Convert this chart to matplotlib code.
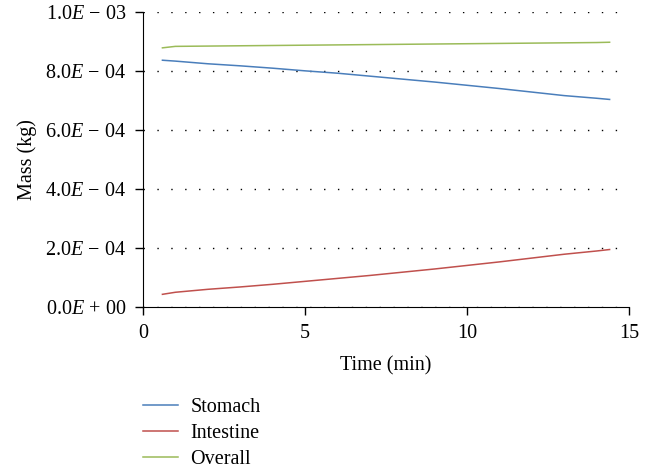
import matplotlib
matplotlib.use("Agg")
import matplotlib.pyplot as plt

plt.rcParams["font.family"] = "Liberation Serif"
plt.rcParams["mathtext.fontset"] = "custom"
plt.rcParams["mathtext.rm"] = "Liberation Serif"
plt.rcParams["mathtext.it"] = "Liberation Serif:italic"

TIME = [0.6, 1.0, 2, 3, 4, 5, 6, 7, 8, 9, 10, 11, 12, 13, 14, 14.4]
STOMACH = [8.37e-4, 8.34e-4, 8.25e-4, 8.18e-4, 8.10e-4, 8.01e-4, 7.93e-4, 7.83e-4,
           7.73e-4, 7.63e-4, 7.52e-4, 7.41e-4, 7.29e-4, 7.17e-4, 7.08e-4, 7.04e-4]
INTESTINE = [4.3e-5, 5.0e-5, 6.0e-5, 6.8e-5, 7.7e-5, 8.7e-5, 9.7e-5, 1.07e-4,
             1.18e-4, 1.29e-4, 1.41e-4, 1.53e-4, 1.66e-4, 1.79e-4, 1.90e-4, 1.95e-4]
OVERALL = [8.79e-4, 8.84e-4, 8.85e-4, 8.86e-4, 8.87e-4, 8.88e-4, 8.89e-4, 8.90e-4,
           8.91e-4, 8.92e-4, 8.93e-4, 8.94e-4, 8.95e-4, 8.96e-4, 8.97e-4, 8.98e-4]
YTICKS = [0, 2e-4, 4e-4, 6e-4, 8e-4, 1e-3]
YLABELS = [r"$\mathrm{0.0}E\,+\,\mathrm{00}$", r"$\mathrm{2.0}E\,-\,\mathrm{04}$",
           r"$\mathrm{4.0}E\,-\,\mathrm{04}$", r"$\mathrm{6.0}E\,-\,\mathrm{04}$",
           r"$\mathrm{8.0}E\,-\,\mathrm{04}$", r"$\mathrm{1.0}E\,-\,\mathrm{03}$"]
FS = 14.5


def main():
    fig = plt.figure(figsize=(6.58, 4.68), dpi=100)
    ax = fig.add_axes([0.2173, 0.344, 0.7387, 0.630])
    ax.plot(TIME, STOMACH, color="#4a7ebb", lw=1.1, label="Stomach")
    ax.plot(TIME, INTESTINE, color="#c0504d", lw=1.1, label="Intestine")
    ax.plot(TIME, OVERALL, color="#9bbb59", lw=1.1, label="Overall")

    ax.set_xlim(0, 15)
    ax.set_ylim(0, 1e-3)
    ax.set_xticks([0, 5, 10, 15])
    ax.set_yticks(YTICKS)
    ax.set_yticklabels(YLABELS)
    ax.tick_params(direction="out", length=6, width=1, labelsize=FS)
    ax.tick_params(axis="x", pad=6)
    ax.tick_params(axis="y", pad=6)
    ax.yaxis.grid(True, ls=(0, (1, 9)), color="black", lw=1)
    for s in ["top", "right"]:
        ax.spines[s].set_visible(False)
    ax.set_xlabel("Time (min)", fontsize=FS, labelpad=10)
    ax.set_ylabel("Mass (kg)", fontsize=FS, labelpad=6)

    fig.legend(loc="upper left", bbox_to_anchor=(0.19, 0.189), frameon=False,
               fontsize=FS, handlelength=1.75, handletextpad=0.6, labelspacing=0.35)
    fig.savefig("out.png", dpi=100)
    plt.close(fig)


if __name__ == "__main__":
    main()
